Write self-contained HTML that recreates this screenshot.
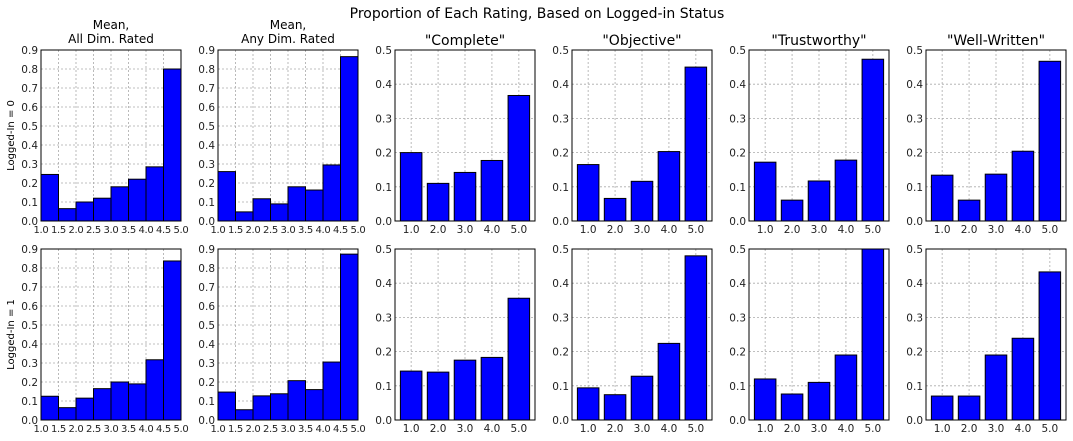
<!DOCTYPE html>
<html><head><meta charset="utf-8"><style>
html,body{margin:0;padding:0;background:#fff;}
svg{display:block;font-family:"DejaVu Sans","Liberation Sans",sans-serif;}
</style></head><body>
<svg id="fig" width="1073" height="441" viewBox="0 0 1073 441" xmlns="http://www.w3.org/2000/svg">
<text x="537" y="18" font-size="14" text-anchor="middle" fill="#000">Proportion of Each Rating, Based on Logged-in Status</text>
</svg>
<script>
const histEdges = [1.0,1.5,2.0,2.5,3.0,3.5,4.0,4.5,5.0];
const histTicks = ["1.0","1.5","2.0","2.5","3.0","3.5","4.0","4.5","5.0"];
const histYTicks = [0,0.1,0.2,0.3,0.4,0.5,0.6,0.7,0.8,0.9];
const barCats = [1,2,3,4,5];
const barTicks = ["1.0","2.0","3.0","4.0","5.0"];
const barYTicks = [0,0.1,0.2,0.3,0.4,0.5];
const panelTitles = ["Mean,|All Dim. Rated","Mean,|Any Dim. Rated","\"Complete\"","\"Objective\"","\"Trustworthy\"","\"Well-Written\""];
const rowLabels = ["Logged-In = 0","Logged-In = 1"];
const meanAll0 = [0.245,0.065,0.10,0.12,0.18,0.22,0.285,0.80];
const meanAny0 = [0.26,0.048,0.117,0.09,0.18,0.163,0.295,0.865];
const complete0 = [0.20,0.11,0.142,0.177,0.367];
const objective0 = [0.165,0.066,0.116,0.203,0.45];
const trust0 = [0.172,0.061,0.117,0.178,0.473];
const well0 = [0.134,0.061,0.137,0.204,0.467];
const meanAll1 = [0.125,0.065,0.115,0.165,0.20,0.19,0.317,0.837];
const meanAny1 = [0.147,0.054,0.127,0.138,0.207,0.16,0.305,0.873];
const complete1 = [0.143,0.14,0.175,0.183,0.356];
const objective1 = [0.094,0.074,0.128,0.224,0.48];
const trust1 = [0.12,0.076,0.11,0.19,0.51];
const well1 = [0.07,0.07,0.19,0.239,0.433];

const rowsData = [[meanAll0,meanAny0,complete0,objective0,trust0,well0],[meanAll1,meanAny1,complete1,objective1,trust1,well1]];
const NS="http://www.w3.org/2000/svg";
const svg=document.getElementById('fig');
function mk(tag,attrs,parent){const e=document.createElementNS(NS,tag);for(const k in attrs)e.setAttribute(k,attrs[k]);(parent||svg).appendChild(e);return e;}
const PW=140, PH=171, lefts=[41,218,395,572,749,926], tops=[50,249];
const FS=10.5;

rowsData.forEach((row,r)=>{
  const top=tops[r], bot=top+PH;
  const yl=mk('text',{x:14,y:(top+bot)/2,'font-size':10,'text-anchor':'middle',transform:`rotate(-90 14 ${(top+bot)/2})`});
  
  
  yl.textContent=rowLabels[r];
  row.forEach((vals,c)=>{
    const L=lefts[c], R=L+PW;
    const g=mk('g',{});
    
    
    const isHist=c<2;
    const ymax=isHist?0.9:0.5;
    const xmin=isHist?1:0.4, xmax=isHist?5:5.6;
    const sx=v=>L+(v-xmin)/(xmax-xmin)*PW;
    const sy=v=>bot-Math.min(v,ymax)/ymax*PH;
    const yt=isHist?histYTicks:barYTicks;
    yt.forEach((t,i)=>{
      const y=sy(t);
      if(i>0&&i<yt.length-1){const gl=mk('line',{x1:L,x2:R,y1:y,y2:y,stroke:'#aaa','stroke-dasharray':'2,2','stroke-width':0.8},g);
      }
      const tl=mk('text',{x:L-3,y:y+4,'font-size':FS,'text-anchor':'end',fill:'#222'},g);
      
      tl.textContent=t.toFixed(1);
    });
    const xtv=isHist?histEdges:barCats, xtl=isHist?histTicks:barTicks;
    xtv.forEach((t,i)=>{
      const x=sx(t);
      if(x>L+0.5&&x<R-0.5){const gl=mk('line',{x1:x,x2:x,y1:top,y2:bot,stroke:'#aaa','stroke-dasharray':'2,2','stroke-width':0.8},g);
      }
      const tl=mk('text',{x:x,y:bot+12,'font-size':isHist?10:FS,'letter-spacing':isHist?-0.3:0,'text-anchor':'middle',fill:'#222'},g);
      
      tl.textContent=xtl[i];
    });
    vals.forEach((v,i)=>{
      let x0,x1;
      if(isHist){x0=sx(histEdges[i]);x1=sx(histEdges[i+1]);}
      else{x0=sx(barCats[i]-0.4);x1=sx(barCats[i]+0.4);}
      const b=mk('rect',{x:x0,y:sy(v),width:x1-x0,height:bot-sy(v),fill:'#0000ff',stroke:'#000','stroke-width':1},g);
      
      
    });
    const fr=mk('rect',{x:L,y:top,width:PW,height:PH,fill:'none',stroke:'#000','stroke-width':1},g);
    
    
    if(r===0){
      const parts=panelTitles[c].split('|');
      parts.forEach((p,k)=>{
        const fs=isHist?12:14;
        const y=isHist?(top-21+k*14):(top-5);
        const tt=mk('text',{x:L+PW/2,y:y,'font-size':fs,'text-anchor':'middle',fill:'#000'},g);
        
        
        tt.textContent=p;
      });
    }
  });
});
</script>
</body></html>
